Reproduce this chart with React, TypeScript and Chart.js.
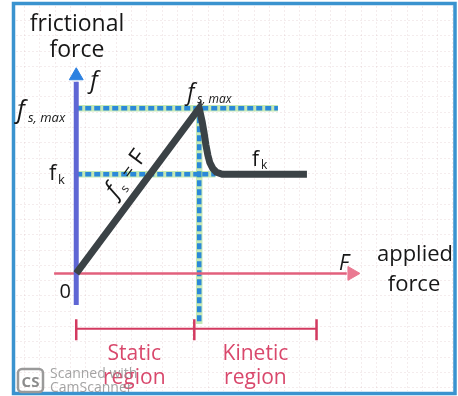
import React, { useEffect, useRef } from "react";
import { Chart, registerables } from "chart.js";

Chart.register(...registerables);

// ---------- data (applied force F, frictional force f; arbitrary units) ----------
const FS_MAX = 10; // maximum static friction
const FK = 6; // kinetic friction
const F_PEAK = 5; // applied force at which sliding starts

// friction curve: static ramp f = F, then drop to kinetic level
const curveF = [0, 5, 5.12, 5.2, 5.27, 5.35, 5.43, 5.55, 5.7, 5.94, 9.38];
const curvef = [0, 10, 9.19, 8.5, 7.8, 7.17, 6.71, 6.36, 6.13, 6.0, 6.0];

// guide lines
const fsMaxGuideF = [0, 8.2];
const fkGuideF = [0, 5.66];
const peakGuidef = [FS_MAX, -3.06];

// axes
const yAxisf = [-1.91, 11.6];
const xAxisF = [-0.9, 11.0];
const yArrowf = 11.97;
const xArrowF = 11.21;

// region bracket
const regionEdgesF = [0, 4.8, 9.77];
const regionf = -3.35;
const regionTickf = [-2.77, -4.05];
const regionNames = ["Static", "Kinetic"];

// visible range of the drawing
const F_RANGE = [-2.734, 15.156];
const f_RANGE = [-6.879, 16.012];

const SANS = '"Open Sans", "DejaVu Sans", sans-serif';

const pts = (xs: number[], ys: number[]) => xs.map((v, i) => ({ x: v, y: ys[i] }));

const backgroundPlugin = {
  id: "paper",
  beforeDatasetsDraw(chart: any) {
    const { ctx, width, height } = chart;
    ctx.save();
    ctx.fillStyle = "#ffffff";
    ctx.fillRect(0, 0, width, height);
    // faint graph-paper grid
    ctx.strokeStyle = "rgba(205,170,175,0.22)";
    ctx.lineWidth = 1;
    ctx.setLineDash([2, 2]);
    for (let yy = 20; yy < 392; yy += 15.3) {
      ctx.beginPath();
      ctx.moveTo(16, Math.round(yy) + 0.5);
      ctx.lineTo(453, Math.round(yy) + 0.5);
      ctx.stroke();
    }
    for (let xx = 24; xx < 453; xx += 15.3) {
      ctx.beginPath();
      ctx.moveTo(Math.round(xx) + 0.5, 6);
      ctx.lineTo(Math.round(xx) + 0.5, 391);
      ctx.stroke();
    }
    ctx.setLineDash([]);
    // scanned frame
    ctx.strokeStyle = "#3a93cf";
    ctx.lineWidth = 3.5;
    ctx.strokeRect(13.5, 3.5, 441.5, 390);
    ctx.restore();
  },
};

const labelPlugin = {
  id: "labels",
  afterDatasetsDraw(chart: any) {
    const { ctx } = chart;
    const X = (v: number) => chart.scales.x.getPixelForValue(v);
    const Y = (v: number) => chart.scales.y.getPixelForValue(v);
    const t = (
      s: string,
      px: number,
      py: number,
      size: number,
      opts: { italic?: boolean; bold?: boolean; color?: string; align?: CanvasTextAlign } = {}
    ) => {
      ctx.font = `${opts.italic ? "italic " : ""}${opts.bold ? "bold " : ""}${size}px ${SANS}`;
      ctx.fillStyle = opts.color || "#171717";
      ctx.textAlign = opts.align || "left";
      ctx.textBaseline = "alphabetic";
      ctx.fillText(s, px, py);
    };
    ctx.save();

    // axis titles
    t("frictional", 77, 31, 23, { align: "center" });
    t("force", 77, 57, 23, { align: "center" });
    t("f", X(0) + 14, 88, 24, { italic: true });
    t("F", 339, 270, 21, { italic: true });
    t("applied", 415, 261, 22, { align: "center" });
    t("force", 414, 291, 22, { align: "center" });
    t("0", X(0) - 11, Y(0) + 25, 20, { align: "center" });

    // left-hand level labels
    t("f", 17, Y(FS_MAX) + 10, 25, { italic: true });
    t("s, max", 28, Y(FS_MAX) + 14, 13, { italic: true });
    t("f", 49, Y(FK) + 6, 22);
    t("k", 58, Y(FK) + 10, 13);

    // labels on the curve
    t("f", X(F_PEAK) - 12, Y(FS_MAX) - 8, 23, { italic: true });
    t("s, max", X(F_PEAK) - 2, Y(FS_MAX) - 5, 12, { italic: true });
    t("f", 252, Y(FK) - 8, 21);
    t("k", 261, Y(FK) - 5, 12);

    // f_s = F along the ramp
    ctx.save();
    const ang = Math.atan2(Y(FS_MAX) - Y(0), X(F_PEAK) - X(0));
    ctx.translate(126.5, 171);
    ctx.rotate(ang);
    t("f", -28, 8, 24, { italic: true });
    t("s", -18, 13, 12);
    t("=", -5, 8, 19);
    t("F", 12, 8, 23);
    ctx.restore();

    // region names
    const red = "#d9486c";
    for (let i = 0; i < regionNames.length; i++) {
      const cx = (X(regionEdgesF[i]) + X(regionEdgesF[i + 1])) / 2 + (i === 0 ? -1 : 0);
      t(regionNames[i], cx, 360, 21, { color: red, align: "center" });
      t("region", cx, 384, 21, { color: red, align: "center" });
    }

    // scanner watermark
    ctx.strokeStyle = "#9a9a9a";
    ctx.lineWidth = 2.5;
    ctx.beginPath();
    (ctx as any).roundRect ? (ctx as any).roundRect(18, 369, 25, 23, 4) : ctx.rect(18, 369, 25, 23);
    ctx.stroke();
    t("CS", 30.5, 387, 15, { bold: true, color: "#8c8c8c", align: "center" });
    t("Scanned with", 50, 378, 14, { color: "rgba(140,140,140,0.8)" });
    t("CamScanner", 50, 392, 14, { color: "rgba(140,140,140,0.8)" });

    ctx.restore();
  },
};

export default function App() {
  const ref = useRef<HTMLCanvasElement | null>(null);

  useEffect(() => {
    if (!ref.current) return;
    const halo = "rgba(150,215,120,0.55)";
    const dash = "#2b89d9";
    const guide = (data: any[], color: string, width: number, d: number[], order: number) => ({
      data,
      showLine: true,
      borderColor: color,
      borderWidth: width,
      borderDash: d,
      pointRadius: 0,
      order,
    });
    const fsMaxLine = pts(fsMaxGuideF, [FS_MAX, FS_MAX]);
    const fkLine = pts(fkGuideF, [FK, FK]);
    const peakLine = pts([F_PEAK, F_PEAK], peakGuidef);
    const bracketColor = "#d33a60";

    const chart = new Chart(ref.current, {
      type: "scatter",
      data: {
        datasets: [
          // friction curve
          {
            data: pts(curveF, curvef),
            showLine: true,
            borderColor: "#3b4246",
            borderWidth: 7,
            borderJoinStyle: "miter",
            borderCapStyle: "butt",
            pointRadius: 0,
            order: 0,
          } as any,
          // axes
          guide(pts([0, 0], yAxisf), "#5f66d4", 5, [], 1),
          guide(pts(xAxisF, [0, 0]), "#e2607c", 2.5, [], 1),
          {
            data: [{ x: 0, y: yArrowf }],
            pointStyle: "triangle",
            pointRadius: 8,
            pointRotation: 0,
            backgroundColor: "#2c80e0",
            borderColor: "#2c80e0",
            borderWidth: 1,
            order: 1,
          },
          {
            data: [{ x: xArrowF, y: 0 }],
            pointStyle: "triangle",
            pointRadius: 8,
            pointRotation: 90,
            backgroundColor: "#ea7a92",
            borderColor: "#ea7a92",
            borderWidth: 1,
            order: 1,
          },
          // dashed guides
          guide(fsMaxLine, dash, 4.5, [6, 3], 2),
          guide(fkLine, dash, 4.5, [6, 3], 2),
          guide(peakLine, dash, 4.5, [6, 3], 2),
          guide(fsMaxLine, halo, 6.5, [], 3),
          guide(fkLine, halo, 6.5, [], 3),
          guide(peakLine, halo, 6.5, [], 3),
          // region bracket
          guide(pts([regionEdgesF[0], regionEdgesF[2]], [regionf, regionf]), bracketColor, 2, [], 1),
          ...regionEdgesF.map((e) => guide(pts([e, e], regionTickf), bracketColor, 2.5, [], 1)),
        ],
      },
      options: {
        animation: false,
        responsive: false,
        events: [],
        layout: { padding: 0 },
        plugins: { legend: { display: false }, tooltip: { enabled: false } },
        scales: {
          x: { type: "linear", min: F_RANGE[0], max: F_RANGE[1], display: false },
          y: { type: "linear", min: f_RANGE[0], max: f_RANGE[1], display: false },
        },
      },
      plugins: [backgroundPlugin, labelPlugin],
    });
    return () => chart.destroy();
  }, []);

  return (
    <div style={{ position: "absolute", left: 0, top: 0, width: 458, height: 396 }}>
      <canvas ref={ref} width={458} height={396} style={{ display: "block" }} />
    </div>
  );
}
